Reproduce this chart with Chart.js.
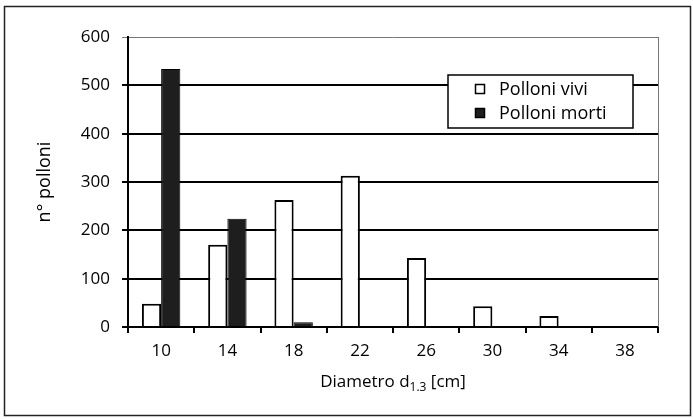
<!DOCTYPE html>
<html>
<head>
<meta charset="utf-8">
<script src="https://cdn.jsdelivr.net/npm/chart.js@4.4.1/dist/chart.umd.min.js"></script>
<style>
  html, body { margin: 0; padding: 0; background: #fff; }
  #wrap { width: 693px; height: 419px; }
</style>
</head>
<body>
<div id="wrap"><canvas id="chart" width="693" height="419"></canvas></div>
<script>
const diametri = ['10', '14', '18', '22', '26', '30', '34', '38'];
const polloniVivi = [48, 170, 263, 313, 143, 43, 23, 0];
const polloniMorti = [534, 224, 10, 0, 0, 0, 0, 0];
const yTicks = [0, 100, 200, 300, 400, 500, 600];

const FONT = '"Open Sans", "Noto Sans", sans-serif';
Chart.defaults.font.family = FONT;
Chart.defaults.color = '#000';

// frame, plot border, x title with subscript, legend box
const extras = {
  id: 'extras',
  beforeDraw(chart) {
    const c = chart.ctx;
    c.save();
    c.fillStyle = '#fff';
    c.fillRect(0, 0, chart.width, chart.height);
    c.strokeStyle = '#222';
    c.lineWidth = 1.5;
    c.strokeRect(4.5, 6.5, 686, 409);
    c.restore();
  },
  afterDatasetsDraw(chart) {
    const c = chart.ctx, a = chart.chartArea;
    c.save();
    c.strokeStyle = '#777';
    c.lineWidth = 1;
    c.beginPath();
    c.moveTo(a.right + 0.5, a.top);
    c.lineTo(a.right + 0.5, a.bottom);
    c.stroke();

    // x axis title: Diametro d1.3 [cm]
    c.fillStyle = '#000';
    c.textBaseline = 'alphabetic';
    const big = '17px ' + FONT, small = '12px ' + FONT;
    const p1 = 'Diametro d', p2 = '1.3', p3 = ' [cm]';
    c.font = big; const w1 = c.measureText(p1).width, w3 = c.measureText(p3).width;
    c.font = small; const w2 = c.measureText(p2).width;
    let x = (a.left + a.right) / 2 - (w1 + w2 + w3) / 2;
    const y = 387;
    c.font = big; c.fillText(p1, x, y); x += w1;
    c.font = small; c.fillText(p2, x, y + 4); x += w2;
    c.font = big; c.fillText(p3, x, y);

    // legend
    const lx = 448, ly = 75, lw = 185, lh = 53;
    c.fillStyle = '#fff';
    c.fillRect(lx, ly, lw, lh);
    c.strokeStyle = '#000';
    c.lineWidth = 1.5;
    c.strokeRect(lx, ly, lw, lh);
    const items = chart.data.datasets;
    items.forEach((ds, i) => {
      const cy = ly + 14 + i * 24;
      c.fillStyle = ds.backgroundColor;
      c.fillRect(475, cy - 5, 10, 10);
      c.strokeStyle = '#000';
      c.lineWidth = 1.5;
      c.strokeRect(475.5, cy - 4.5, 9, 9);
      c.fillStyle = '#000';
      c.font = '18px ' + FONT;
      c.textBaseline = 'middle';
      c.fillText(ds.label, 499, cy + 1);
    });
    c.restore();
  }
};

new Chart(document.getElementById('chart'), {
  type: 'bar',
  data: {
    labels: diametri,
    datasets: [
      {
        label: 'Polloni vivi',
        data: polloniVivi,
        backgroundColor: '#ffffff',
        borderColor: '#000',
        borderWidth: 2
      },
      {
        label: 'Polloni morti',
        data: polloniMorti,
        backgroundColor: '#1e1e1e',
        borderColor: '#000',
        borderWidth: 1
      }
    ]
  },
  options: {
    responsive: false,
    animation: false,
    layout: { padding: { left: 29, right: 35, top: 37, bottom: 0 } },
    categoryPercentage: 0.58,
    barPercentage: 1,
    plugins: {
      legend: { display: false },
      tooltip: { enabled: false }
    },
    scales: {
      x: {
        offset: true,
        grid: {
          offset: true,
          drawOnChartArea: false,
          drawTicks: true,
          tickLength: 6,
          color: '#000',
          lineWidth: 2
        },
        border: { color: '#000', width: 2 },
        ticks: { font: { size: 17 }, padding: 8 },
        afterFit(scale) { scale.height = 419 - 327; }
      },
      y: {
        min: 0,
        max: 600,
        afterBuildTicks(scale) { scale.ticks = yTicks.map(v => ({ value: v })); },
        grid: {
          color: ctx => (ctx.tick && ctx.tick.value === 600) ? '#777' : '#000',
          lineWidth: ctx => (ctx.tick && ctx.tick.value === 600) ? 1 : 2,
          tickLength: 6
        },
        border: { color: '#000', width: 2 },
        ticks: { font: { size: 17 }, padding: 12 },
        title: {
          display: true,
          text: 'n° polloni',
          font: { size: 18 },
          padding: { top: 5, bottom: 0 }
        },
        afterFit(scale) { scale.width = 128 - 29; }
      }
    }
  },
  plugins: [extras]
});
</script>
</body>
</html>
